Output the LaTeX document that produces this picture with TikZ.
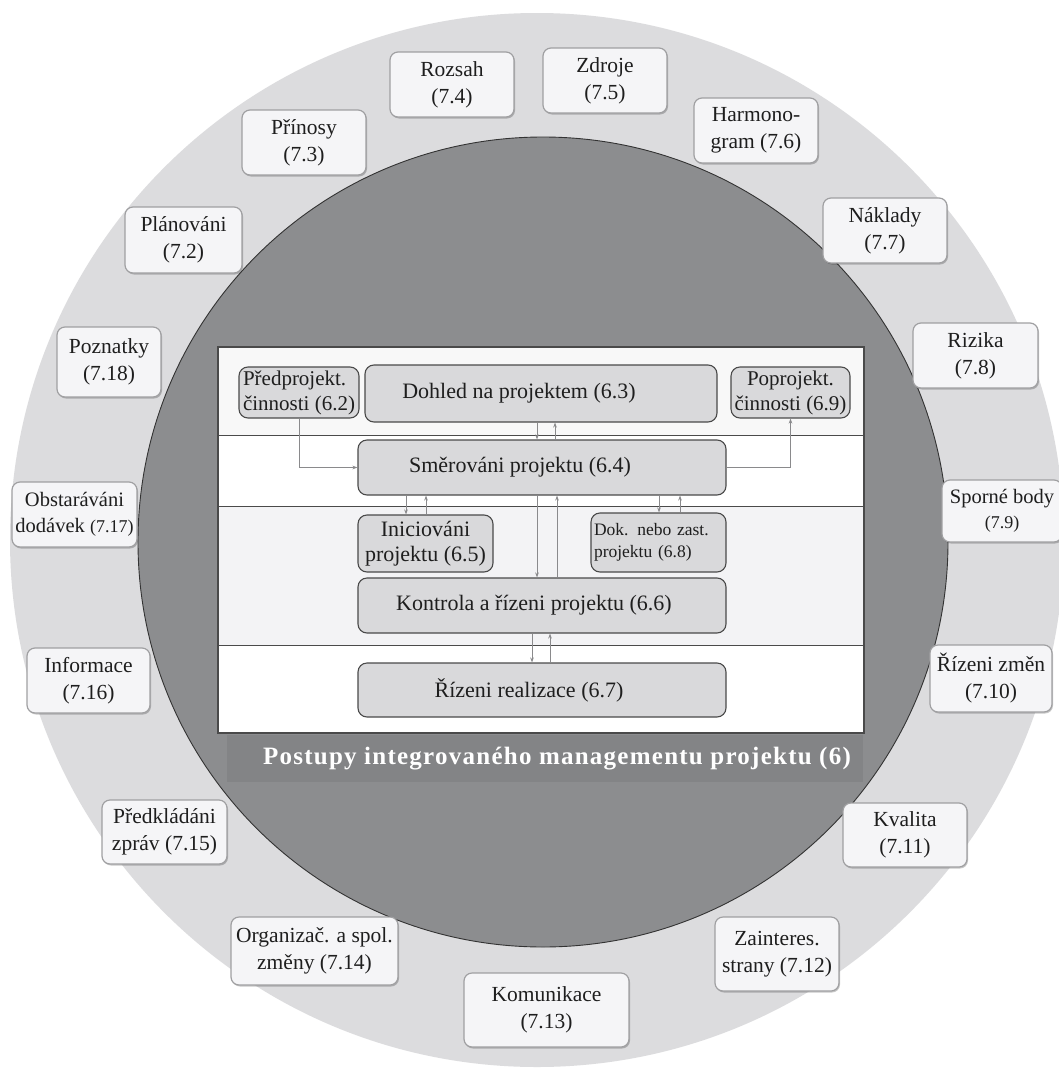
\documentclass[tikz,border=0pt]{standalone}
\usepackage{fontspec}
\setmainfont{Liberation Serif}
\newfontfamily\titlefont[LetterSpace=5]{Liberation Serif}
\usetikzlibrary{arrows.meta,shadows}

\definecolor{ring}{HTML}{DCDCDE}
\definecolor{core}{HTML}{8C8D8F}
\definecolor{band}{HTML}{838486}
\definecolor{boxfill}{HTML}{F5F5F7}
\definecolor{boxline}{HTML}{A0A0A2}
\definecolor{procfill}{HTML}{D9D9DB}
\definecolor{procline}{HTML}{4A4A4A}
\definecolor{flow}{HTML}{8A8A8C}
\definecolor{ink}{HTML}{1E1E1E}
\definecolor{rowa}{HTML}{F8F8F8}
\definecolor{rowc}{HTML}{F3F3F5}

\begin{document}
\begin{tikzpicture}[x=1pt,y=-1pt,
  obox/.style={draw=boxline, fill=boxfill, line width=1.2pt, rounded corners=8pt,
    align=center, text=ink, inner sep=2pt,
    font=\fontsize{21.5}{27}\selectfont,
    drop shadow={shadow xshift=1pt, shadow yshift=-1.5pt, fill=black, opacity=0.22}},
  proc/.style={draw=procline, fill=procfill, line width=1.1pt, rounded corners=9pt,
    text=ink, inner sep=1pt, font=\fontsize{22}{25}\selectfont},
  flowarr/.style={draw=flow, line width=0.9pt, -{Stealth[length=5pt,width=3.6pt]}}]

\useasboundingbox (0,0) rectangle (1059,1068);
\fill[white] (0,0) rectangle (1059,1068);

% outer ring and inner core
\fill[ring] (537,540) circle[radius=527pt];
\filldraw[fill=core, draw=black!80, line width=0.9pt] (543,542) circle[radius=405pt];

% caption band under the panel
\fill[band] (227,735) rectangle (863,782);

% process panel with four rows
\fill[white] (218,347) rectangle (864,733);
\fill[rowa] (218,347) rectangle (864,435);
\fill[rowc] (218,506) rectangle (864,645);
\draw[procline, line width=1pt] (218,435) -- (864,435);
\draw[procline, line width=1pt] (218,506) -- (864,506);
\draw[procline, line width=1pt] (218,645) -- (864,645);
\draw[procline, line width=1.2pt] (218,347) rectangle (864,733);

% processes
\node[proc, minimum width=120pt, minimum height=51pt, align=left,
      font=\fontsize{21}{25}\selectfont] (pre) at (299,392.5)
      {Předprojekt.\\činnosti (6.2)};
\node[proc, minimum width=352pt, minimum height=57pt] (dohled) at (541,393.5)
      {Dohled na projektem (6.3)\hspace*{44pt}};
\node[proc, minimum width=119pt, minimum height=51pt, align=center,
      font=\fontsize{21}{25}\selectfont] (post) at (790.5,392.5)
      {Poprojekt.\\činnosti (6.9)};
\node[proc, minimum width=368pt, minimum height=55pt] (smer) at (542,467.5)
      {Směrováni projektu (6.4)\hspace*{44pt}};
\node[proc, minimum width=135pt, minimum height=57pt, align=center] (inic) at (425.5,543.5)
      {Iniciováni\\projektu (6.5)};
\node[proc, minimum width=135pt, minimum height=59pt, align=left,
      font=\fontsize{17.5}{22}\selectfont, text width=129pt] (dok) at (658.5,542.5)
      {Dok. nebo zast.\\projektu (6.8)};
\node[proc, minimum width=368pt, minimum height=55pt] (ctrl) at (542,605.5)
      {Kontrola a řízeni projektu (6.6)\hspace*{16pt}};
\node[proc, minimum width=368pt, minimum height=54pt] (real) at (542,690)
      {Řízeni realizace (6.7)\hspace*{26pt}};

% flows between processes
\draw[flowarr] (pre.south) |- (smer.west);
\draw[flowarr] (smer.east) -| (post.south);
\draw[flowarr] (dohled.south -| 537,0) -- (smer.north -| 537,0);
\draw[flowarr] (smer.north -| 555,0) -- (dohled.south -| 555,0);
\draw[flowarr] (smer.south -| 406,0) -- (inic.north -| 406,0);
\draw[flowarr] (inic.north -| 426,0) -- (smer.south -| 426,0);
\draw[flowarr] (smer.south -| 537,0) -- (ctrl.north -| 537,0);
\draw[flowarr] (ctrl.north -| 557,0) -- (smer.south -| 557,0);
\draw[flowarr] (smer.south -| 659,0) -- (dok.north -| 659,0);
\draw[flowarr] (dok.north -| 680,0) -- (smer.south -| 680,0);
\draw[flowarr] (ctrl.south -| 532,0) -- (real.north -| 532,0);
\draw[flowarr] (real.north -| 550,0) -- (ctrl.south -| 550,0);

% caption
\node[text=white, font=\titlefont\bfseries\fontsize{25}{28}\selectfont] (title) at (557,759)
      {Postupy integrovaného managementu projektu (6)};

% supporting practices around the ring
\node[obox, minimum width=117pt, minimum height=66pt] (plan) at (183.5,240) {Plánováni\\(7.2)};
\node[obox, minimum width=124pt, minimum height=65pt] (prin) at (304,142.5) {Přínosy\\(7.3)};
\node[obox, minimum width=124pt, minimum height=65pt] (rozsah) at (452,84.5) {Rozsah\\(7.4)};
\node[obox, minimum width=124pt, minimum height=65pt] (zdroje) at (605,80.5) {Zdroje\\(7.5)};
\node[obox, minimum width=124pt, minimum height=65pt] (harm) at (756,130.5) {Harmono-\\gram (7.6)};
\node[obox, minimum width=124pt, minimum height=65pt] (nakl) at (885,230.5) {Náklady\\(7.7)};
\node[obox, minimum width=125pt, minimum height=65pt] (rizika) at (975.5,355.5) {Rizika\\(7.8)};
\node[obox, minimum width=120pt, minimum height=62pt, font=\fontsize{20.5}{25}\selectfont] (sporne) at (1002,511)
      {Sporné body\\{\fontsize{18}{20}\selectfont(7.9)}};
\node[obox, minimum width=122pt, minimum height=67pt] (zmeny) at (991,678.5) {Řízeni změn\\(7.10)};
\node[obox, minimum width=124pt, minimum height=64pt] (kval) at (905,835) {Kvalita\\(7.11)};
\node[obox, minimum width=124pt, minimum height=74pt] (zaint) at (777,954) {Zainteres.\\strany (7.12)};
\node[obox, minimum width=165pt, minimum height=74pt] (komun) at (546.5,1010) {Komunikace\\(7.13)};
\node[obox, minimum width=167pt, minimum height=68pt] (org) at (314.5,951) {Organizač. a spol.\\změny (7.14)};
\node[obox, minimum width=125pt, minimum height=64pt] (zpravy) at (164.5,832) {Předkládáni\\zpráv (7.15)};
\node[obox, minimum width=123pt, minimum height=65pt] (info) at (88.5,680.5) {Informace\\(7.16)};
\node[obox, minimum width=125pt, minimum height=65pt, font=\fontsize{20.5}{26}\selectfont] (obst) at (74.5,514.5)
      {Obstaráváni\\dodávek {\fontsize{18}{20}\selectfont(7.17)}};
\node[obox, minimum width=104pt, minimum height=70pt] (pozn) at (109,362) {Poznatky\\(7.18)};

\end{tikzpicture}
\end{document}
